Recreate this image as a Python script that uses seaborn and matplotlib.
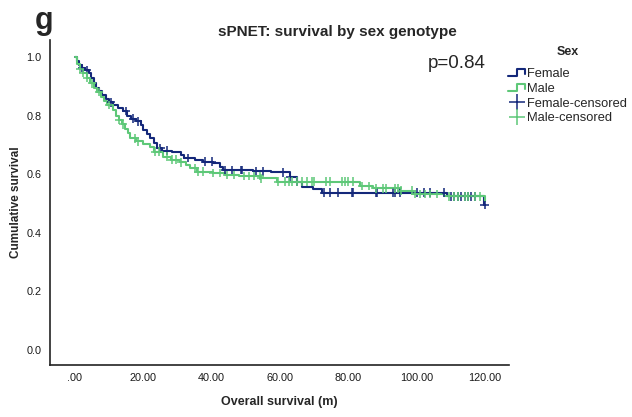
import numpy as np
import pandas as pd
import seaborn as sns
import matplotlib
matplotlib.use("Agg")
import matplotlib.pyplot as plt
from matplotlib.lines import Line2D
from matplotlib.legend_handler import HandlerBase

#%% DATA
female_time = [0, 0.6, 1.2, 2.0, 3.0, 4.0, 4.8, 5.5, 6.2, 7.0, 8.0, 9.0, 10.0, 11.0, 12.5,
               14.0, 15.2, 16.5, 18.0, 19.2, 20.0, 21.0, 22.0, 23.0, 24.0, 25.5, 28.5, 31.0,
               32.0, 35.0, 37.5, 40.5, 42.4, 43.4, 52.0, 57.5, 62.9, 64.9, 66.3, 69.7, 72.2,
               108.8, 119.8]
female_surv = [1.0, 0.985, 0.972, 0.962, 0.955, 0.945, 0.93, 0.91, 0.895, 0.885, 0.872, 0.858,
               0.845, 0.835, 0.826, 0.815, 0.80, 0.79, 0.78, 0.768, 0.75, 0.738, 0.725, 0.705,
               0.688, 0.68, 0.677, 0.665, 0.655, 0.65, 0.643, 0.637, 0.626, 0.614, 0.61, 0.606,
               0.592, 0.575, 0.555, 0.548, 0.537, 0.524, 0.495]

male_time = [0, 0.7, 1.5, 2.5, 3.5, 4.5, 5.5, 6.5, 7.5, 8.5, 9.5, 11.0, 12.0, 12.8, 13.8, 14.6,
             15.5, 16.2, 18.0, 20.0, 22.0, 23.0, 25.8, 28.0, 30.7, 32.5, 33.7, 35.6, 40.5, 44.0,
             48.0, 54.1, 59.0, 83.4, 87.3, 95.1, 99.0, 108.0, 120.0]
male_surv = [1.0, 0.975, 0.96, 0.945, 0.93, 0.91, 0.895, 0.88, 0.865, 0.85, 0.836, 0.82, 0.80,
             0.785, 0.77, 0.756, 0.74, 0.722, 0.712, 0.704, 0.694, 0.677, 0.66, 0.65, 0.64, 0.63,
             0.62, 0.609, 0.604, 0.598, 0.594, 0.586, 0.575, 0.56, 0.552, 0.544, 0.532, 0.524,
             0.51]

female_censored = [2.0, 3.5, 10.5, 15.0, 17.0, 18.5, 25.0, 27.0, 33.0, 38.0, 40.0, 44.0, 46.0,
                   48.5, 49.0, 53.0, 55.0, 61.0, 63.0, 65.0, 73.0, 74.5, 77.0, 81.0, 81.5, 88.0,
                   88.5, 93.0, 93.5, 95.0, 100.0, 102.0, 104.0, 108.0, 110.0, 111.0, 112.0, 113.0,
                   114.0, 115.0, 116.0, 117.0, 119.9]
male_censored = [1.5, 2.5, 3.5, 5.0, 7.0, 10.0, 13.0, 14.0, 17.5, 18.5, 23.5, 24.5, 27.0, 28.5,
                 29.5, 31.0, 35.0, 36.0, 37.5, 40.5, 42.5, 44.5, 46.5, 49.5, 51.0, 52.5, 54.0,
                 54.5, 59.5, 61.5, 62.5, 63.5, 65.0, 66.5, 68.0, 69.5, 70.0, 73.5, 74.5, 78.0,
                 79.0, 80.0, 81.5, 84.0, 86.0, 88.0, 90.0, 91.0, 93.5, 94.5, 95.5, 98.5, 99.5,
                 101.0, 102.5, 104.0, 106.0, 109.5, 111.0, 112.0, 114.0, 115.0, 117.0, 118.5]

x_ticks = [0, 20, 40, 60, 80, 100, 120]
x_tick_labels = ['.00', '20.00', '40.00', '60.00', '80.00', '100.00', '120.00']
y_ticks = [0.0, 0.2, 0.4, 0.6, 0.8, 1.0]

NAVY = '#14287a'
GREEN = '#5ec878'
palette = {'Female': NAVY, 'Male': GREEN}

#%% BUILD TABLES
steps = pd.concat([
    pd.DataFrame({'time': female_time, 'surv': female_surv, 'Sex': 'Female'}),
    pd.DataFrame({'time': male_time, 'surv': male_surv, 'Sex': 'Male'}),
], ignore_index=True)


def surv_at(times, survs, t):
    idx = np.searchsorted(times, t, side='right') - 1
    return np.asarray(survs)[idx]


cens = pd.concat([
    pd.DataFrame({'time': female_censored,
                  'surv': surv_at(female_time, female_surv, female_censored),
                  'Sex': 'Female'}),
    pd.DataFrame({'time': male_censored,
                  'surv': surv_at(male_time, male_surv, male_censored),
                  'Sex': 'Male'}),
], ignore_index=True)

#%% PLOT
sns.set_style('white')
plt.rcParams['font.family'] = ['Liberation Sans', 'DejaVu Sans']

fig = plt.figure(figsize=(6.32, 4.17), dpi=100)
ax = fig.add_axes([50 / 632, 52 / 417, 459 / 632, 325 / 417])

sns.lineplot(data=steps, x='time', y='surv', hue='Sex', palette=palette,
             drawstyle='steps-post', estimator=None, linewidth=1.5, ax=ax, legend=False)
sns.scatterplot(data=cens, x='time', y='surv', hue='Sex', palette=palette, marker='+',
                s=38, linewidth=1.1, ax=ax, legend=False, zorder=3)

ax.set_xlim(-7.3, 127)
ax.set_ylim(-0.051, 1.058)
ax.set_xticks(x_ticks)
ax.set_xticklabels(x_tick_labels)
ax.set_yticks(y_ticks)
ax.set_yticklabels([f'{v:.1f}' for v in y_ticks])
ax.tick_params(axis='both', length=0, labelsize=7.8, colors='#1a1a1a', pad=6)
for side in ['top', 'right']:
    ax.spines[side].set_visible(False)
for side in ['left', 'bottom']:
    ax.spines[side].set_color('#222222')
    ax.spines[side].set_linewidth(1.2)

ax.set_xlabel('Overall survival (m)', fontsize=9, fontweight='bold', labelpad=9)
ax.set_ylabel('Cumulative survival', fontsize=8.5, fontweight='bold', labelpad=3)

fig.text(337 / 632, 1 - 32 / 417, 'sPNET: survival by sex genotype', ha='center', va='center',
         fontsize=11, fontweight='bold')
fig.text(35 / 632, 1 - 21 / 417, 'g', ha='left', va='center', fontsize=22, fontweight='bold')
fig.text(486 / 632, 1 - 63 / 417, 'p=0.84', ha='right', va='center', fontsize=13.5)


# step-shaped legend icon like the SPSS output
class StepHandler(HandlerBase):
    def create_artists(self, legend, orig_handle, xdescent, ydescent, width, height,
                       fontsize, trans):
        lo = -ydescent + 0.1 * height
        hi = -ydescent + 0.85 * height
        xs = [-xdescent, -xdescent + 0.5 * width, -xdescent + 0.5 * width,
              -xdescent + width, -xdescent + width]
        ys = [lo, lo, hi, hi, lo + 0.2 * height]
        line = Line2D(xs, ys, color=orig_handle.get_color(), linewidth=1.5, transform=trans)
        return [line]


h_f = Line2D([], [], color=NAVY)
h_m = Line2D([], [], color=GREEN)
h_fc = Line2D([], [], color=NAVY, marker='+', linestyle='none', markersize=12,
              markeredgewidth=1.1)
h_mc = Line2D([], [], color=GREEN, marker='+', linestyle='none', markersize=12,
              markeredgewidth=1.1)
leg = fig.legend([h_f, h_m, h_fc, h_mc], ['Female', 'Male', 'Female-censored', 'Male-censored'],
                 handler_map={h_f: StepHandler(), h_m: StepHandler()},
                 title='Sex', loc='upper left', bbox_to_anchor=(508 / 632, 1 - 46 / 417),
                 frameon=False, fontsize=9.3, handlelength=1.35, handletextpad=0.15,
                 labelspacing=0.22, borderaxespad=0, borderpad=0)
leg.get_title().set_fontweight('bold')
leg.get_title().set_fontsize(9)
leg._legend_box.sep = 7

fig.savefig('out.png', dpi=100)
